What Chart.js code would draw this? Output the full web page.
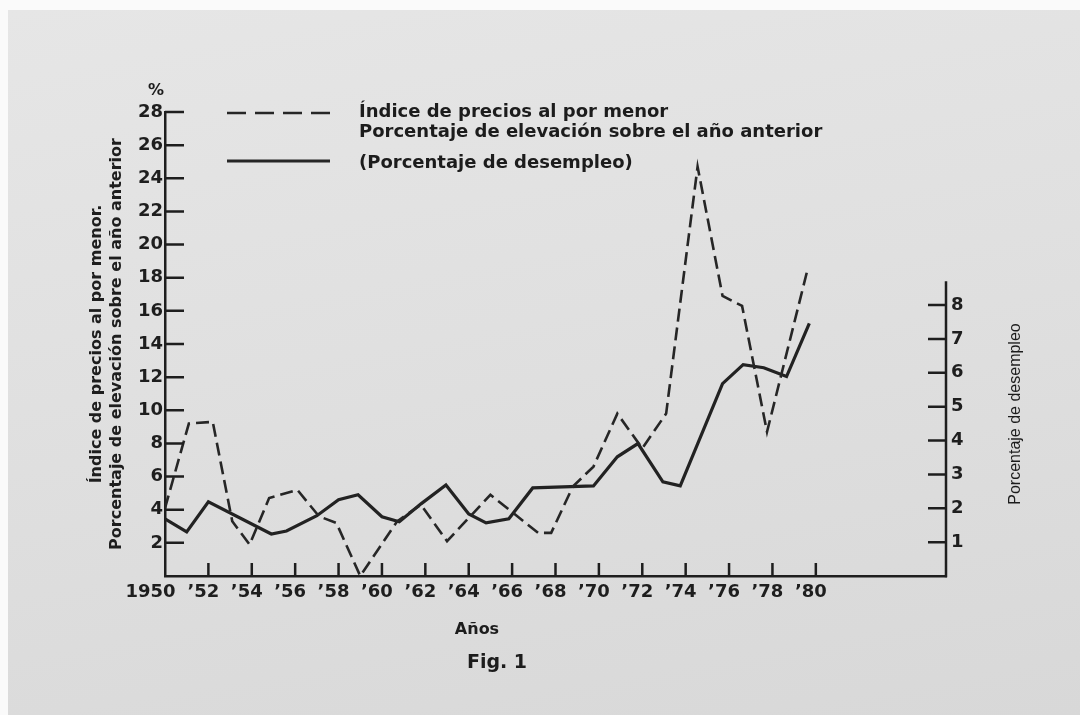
<!DOCTYPE html>
<html lang="es">
<head>
<meta charset="utf-8">
<title>Fig. 1</title>
<script src="https://cdn.jsdelivr.net/npm/chart.js@4.4.1/dist/chart.umd.min.js"></script>
<style>
  html, body { margin: 0; padding: 0; background: #fafafa; }
  #page {
    position: absolute; left: 8px; top: 10px; width: 1072px; height: 705px;
    background: linear-gradient(170deg, #e6e6e6 0%, #e0e0e0 45%, #d8d8d8 100%);
  }
  #wrap { position: absolute; left: 0; top: 0; width: 1080px; height: 715px; }
  canvas { position: absolute; left: 0; top: 0; }
  .txt {
    position: absolute; white-space: nowrap; color: #1c1c1c;
    font-family: "DejaVu Sans", sans-serif; font-weight: bold;
  }
  .mid { transform: translate(-50%, -50%); }
  .leftmid { transform: translateY(-50%); }
</style>
</head>
<body>
<div id="page"></div>
<div id="wrap">
  <canvas id="fig1" width="1080" height="715"></canvas>

  <svg style="position:absolute;left:0;top:0" width="1080" height="715">
    <line x1="227" y1="113" x2="330" y2="113" stroke="#262626" stroke-width="2.5" stroke-dasharray="19 9"/>
    <line x1="227" y1="161" x2="330" y2="161" stroke="#262626" stroke-width="3"/>
  </svg>

  <div class="txt leftmid" style="left:359px;top:110px;font-size:18px">Índice de precios al por menor</div>
  <div class="txt leftmid" style="left:359px;top:130px;font-size:18px">Porcentaje de elevación sobre el año anterior</div>
  <div class="txt leftmid" style="left:359px;top:161px;font-size:18px">(Porcentaje de desempleo)</div>

  <div class="txt mid" style="left:156px;top:89px;font-size:16px">%</div>
  <div class="txt mid" style="left:477px;top:628px;font-size:16px">Años</div>
  <div class="txt mid" style="left:497px;top:661px;font-size:19px">Fig. 1</div>
  <div class="txt mid" style="left:1015px;top:414px;font-size:16px;font-family:'Liberation Sans',sans-serif;font-weight:normal;transform:translate(-50%,-50%) rotate(-90deg)">Porcentaje de desempleo</div>
</div>

<script>
// Índice de precios al por menor, % de elevación sobre el año anterior (eje izquierdo)
const priceYears = [1950, 1951.1, 1952.2, 1953.1, 1953.9, 1954.8, 1956.1, 1957.1, 1957.9, 1959.0,
  1960.7, 1961.8, 1963.0, 1965.0, 1967.2, 1967.8, 1968.8, 1969.75, 1970.85, 1972.0,
  1973.1, 1974.55, 1975.7, 1976.6, 1977.75, 1979.6];
const priceChange = [4.1, 9.2, 9.3, 3.3, 1.9, 4.7, 5.2, 3.6, 3.2, 0.0,
  3.3, 4.3, 2.1, 4.9, 2.6, 2.6, 5.4, 6.6, 9.8, 7.7,
  9.8, 24.7, 16.9, 16.3, 8.7, 18.4];

// Porcentaje de desempleo (eje derecho)
const unempYears = [1950, 1951, 1952, 1954.9, 1955.6, 1957, 1958, 1958.9, 1960, 1960.8,
  1961.8, 1962.95, 1964, 1964.8, 1965.85, 1966.95, 1969.75, 1970.85, 1971.8, 1972.95,
  1973.75, 1975.7, 1976.65, 1977.6, 1978.65, 1979.7];
const unempRate = [1.69, 1.30, 2.19, 1.24, 1.33, 1.78, 2.25, 2.40, 1.75, 1.60,
  2.13, 2.69, 1.83, 1.57, 1.69, 2.60, 2.66, 3.52, 3.91, 2.78,
  2.66, 5.68, 6.24, 6.15, 5.89, 7.46];

// ejes
const yearTicks = [1950, 1952, 1954, 1956, 1958, 1960, 1962, 1964, 1966, 1968, 1970, 1972, 1974, 1976, 1978, 1980];
const yearLabels = ['1950   ', '’52', '’54', '’56', '’58', '’60', '’62', '’64', '’66', '’68', '’70', '’72', '’74', '’76', '’78', '’80'];
const leftTicks = [2, 4, 6, 8, 10, 12, 14, 16, 18, 20, 22, 24, 26, 28];
const rightTicks = [1, 2, 3, 4, 5, 6, 7, 8];
const rightAxisTop = 8.7;

const ink = '#1e1e1e';
const tickFont = { family: 'DejaVu Sans', weight: 'bold', size: 18 };

const insideTicks = {
    id: 'insideTicks',
    afterDraw(chart) {
        const { ctx, chartArea: a } = chart;
        const x = chart.scales.x, y = chart.scales.y, y2 = chart.scales.y2;
        ctx.save();
        ctx.strokeStyle = ink;
        ctx.lineWidth = 2.5;
        ctx.beginPath();
        leftTicks.forEach(function (v) {
            const py = y.getPixelForValue(v);
            ctx.moveTo(a.left, py);
            ctx.lineTo(a.left + 19, py);
        });
        rightTicks.forEach(function (v) {
            const py = y2.getPixelForValue(v);
            ctx.moveTo(a.right - 18, py);
            ctx.lineTo(a.right, py);
        });
        yearTicks.slice(1).forEach(function (v) {
            const px = x.getPixelForValue(v);
            ctx.moveTo(px, a.bottom);
            ctx.lineTo(px, a.bottom - 13);
        });
        ctx.moveTo(a.right, y2.getPixelForValue(0) + 1.25);
        ctx.lineTo(a.right, y2.getPixelForValue(rightAxisTop));
        ctx.stroke();
        ctx.restore();
    }
};

new Chart(document.getElementById('fig1'), {
    type: 'line',
    data: {
        datasets: [{
            label: 'Índice de precios al por menor',
            data: priceYears.map(function (yr, i) { return { x: yr, y: priceChange[i] }; }),
            yAxisID: 'y',
            borderColor: '#262626',
            borderWidth: 2.6,
            borderDash: [13, 6],
            pointRadius: 0,
            tension: 0,
            fill: false
        }, {
            label: 'Porcentaje de desempleo',
            data: unempYears.map(function (yr, i) { return { x: yr, y: unempRate[i] }; }),
            yAxisID: 'y2',
            borderColor: '#222222',
            borderWidth: 3.2,
            pointRadius: 0,
            tension: 0,
            fill: false
        }]
    },
    options: {
        responsive: false,
        animation: false,
        devicePixelRatio: 1,
        layout: { padding: { top: 112, left: 0, right: 0, bottom: 0 } },
        plugins: { legend: { display: false }, tooltip: { enabled: false } },
        scales: {
            x: {
                type: 'linear',
                min: 1950,
                max: 1986,
                afterBuildTicks: function (s) { s.ticks = yearTicks.map(function (v) { return { value: v }; }); },
                afterFit: function (s) { s.height = 139; },
                grid: { drawOnChartArea: false, drawTicks: false },
                border: { color: ink, width: 2.5 },
                ticks: {
                    autoSkip: false, maxRotation: 0, padding: 6, labelOffset: -5, color: ink, font: tickFont,
                    callback: function (v) { return yearLabels[yearTicks.indexOf(v)]; }
                }
            },
            y: {
                position: 'left',
                min: 0,
                max: 28,
                afterBuildTicks: function (s) { s.ticks = leftTicks.map(function (v) { return { value: v }; }); },
                afterFit: function (s) { s.width = 165; },
                grid: { drawOnChartArea: false, drawTicks: false },
                border: { color: ink, width: 2.5 },
                ticks: { padding: 2, color: ink, font: tickFont },
                title: {
                    display: true,
                    text: ['Índice de precios al por menor.', 'Porcentaje de elevación sobre el año anterior'],
                    color: ink,
                    font: { family: 'DejaVu Sans', weight: 'bold', size: 16, lineHeight: 1.25 },
                    padding: { top: 87, bottom: 0 }
                }
            },
            y2: {
                position: 'right',
                min: 0,
                max: 13.7,
                afterBuildTicks: function (s) { s.ticks = rightTicks.map(function (v) { return { value: v }; }); },
                afterFit: function (s) { s.width = 134; },
                grid: { drawOnChartArea: false, drawTicks: false },
                border: { display: false },
                ticks: { padding: 5, color: ink, font: tickFont }
            }
        }
    },
    plugins: [insideTicks]
});
</script>
</body>
</html>
